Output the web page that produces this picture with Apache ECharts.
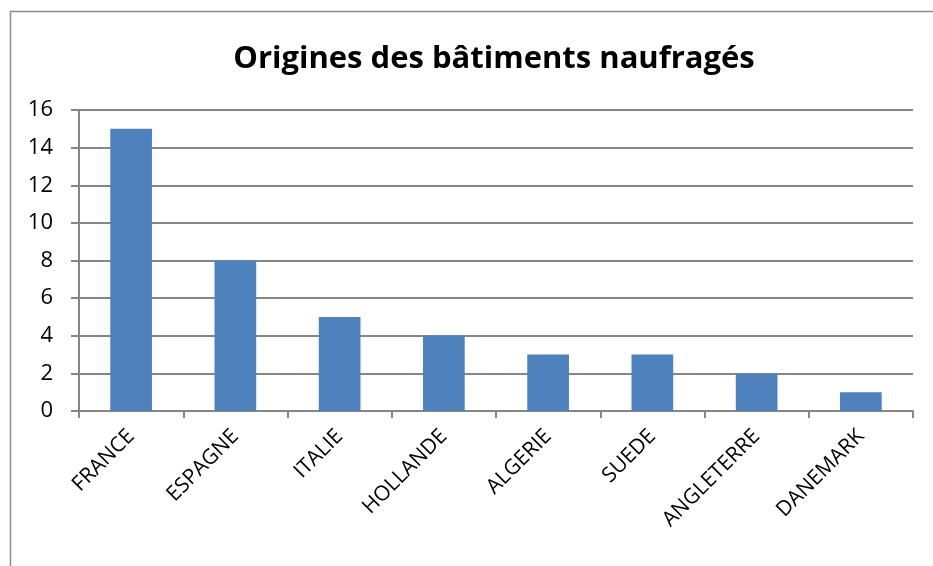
<!DOCTYPE html>
<html>
<head>
<meta charset="utf-8">
<style>
  html, body { margin: 0; padding: 0; background: #fff; }
  #chart { width: 933px; height: 566px; }
</style>
<script src="https://cdn.jsdelivr.net/npm/echarts@6/dist/echarts.min.js"></script>
</head>
<body>
<div id="chart"></div>
<script>
const titleText = "Origines des bâtiments naufragés";
const countries = ["FRANCE", "ESPAGNE", "ITALIE", "HOLLANDE", "ALGERIE", "SUEDE", "ANGLETERRE", "DANEMARK"];
const wrecks = [15, 8, 5, 4, 3, 3, 2, 1];

const chart = echarts.init(document.getElementById("chart"), null, { renderer: "canvas" });
const font = "'Open Sans', 'Noto Sans', sans-serif";

chart.setOption({
  backgroundColor: "#fff",
  animation: false,
  title: {
    text: titleText,
    left: 489,
    textAlign: "center",
    top: 39,
    textStyle: { fontFamily: font, fontSize: 31, fontWeight: "bold", color: "#000" },
  },
  graphic: [
    {
      type: "rect",
      shape: { x: 10.5, y: 11.5, width: 1000, height: 1000 },
      style: { fill: "none", stroke: "#8c8c8c", lineWidth: 1.5 },
      silent: true,
    },
  ],
  grid: { left: 79, right: 20, top: 110, bottom: 155, containLabel: false },
  xAxis: {
    type: "category",
    data: countries,
    axisLine: { lineStyle: { color: "#868686", width: 2 } },
    axisTick: { show: true, length: 7, lineStyle: { color: "#868686", width: 2 } },
    axisLabel: {
      rotate: 45,
      interval: 0,
      margin: 22,
      fontFamily: font,
      fontSize: 21,
      color: "#000",
    },
  },
  yAxis: {
    type: "value",
    min: 0,
    max: 16,
    interval: 2,
    axisLine: { show: true, lineStyle: { color: "#868686", width: 2 } },
    axisTick: { show: true, length: 8, lineStyle: { color: "#868686", width: 2 } },
    axisLabel: { fontFamily: font, fontSize: 22, color: "#000", margin: 26 },
    splitLine: { lineStyle: { color: "#868686", width: 2 } },
  },
  series: [
    {
      type: "bar",
      data: wrecks,
      barWidth: "40%",
      itemStyle: { color: "#4f81bd" },
    },
  ],
});
</script>
</body>
</html>
